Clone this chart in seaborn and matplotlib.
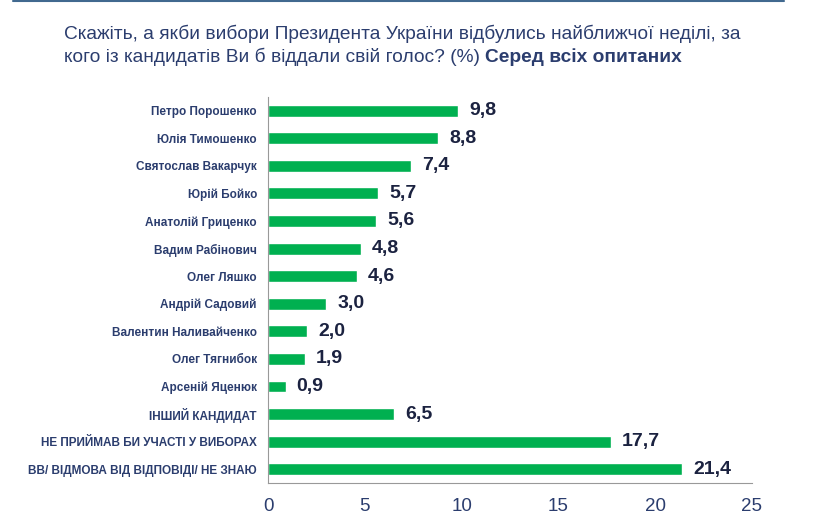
import numpy as np
import pandas as pd
import seaborn as sns
from matplotlib import pyplot as plt
from matplotlib.lines import Line2D

candidates = [
    'Петро Порошенко', 'Юлія Тимошенко', 'Святослав Вакарчук', 'Юрій Бойко',
    'Анатолій Гриценко', 'Вадим Рабінович', 'Олег Ляшко', 'Андрій Садовий',
    'Валентин Наливайченко', 'Олег Тягнибок', 'Арсеній Яценюк',
    'ІНШИЙ КАНДИДАТ', 'НЕ ПРИЙМАВ БИ УЧАСТІ У ВИБОРАХ',
    'ВВ/ ВІДМОВА ВІД ВІДПОВІДІ/ НЕ ЗНАЮ',
]
shares = [9.8, 8.8, 7.4, 5.7, 5.6, 4.8, 4.6, 3.0, 2.0, 1.9, 0.9, 6.5, 17.7, 21.4]
x_ticks = [0, 5, 10, 15, 20, 25]

NAVY = '#2b3d6e'
DARK = '#1b2240'
GREEN = '#00b050'

sns.set_style('white')
plt.rcParams['font.family'] = ['Liberation Sans', 'DejaVu Sans']

df = pd.DataFrame({'candidate': candidates, 'share': shares})

fig = plt.figure(figsize=(8.3, 5.21), dpi=100)
ax = fig.add_axes([0.323, 0.073, 0.583, 0.741])

sns.barplot(data=df, x='share', y='candidate', color=GREEN, orient='h',
            width=0.43, saturation=1, ax=ax)

for i, v in enumerate(shares):
    ax.annotate(f'{v:.1f}'.replace('.', ','), (v, i), xytext=(8, 0),
                textcoords='offset points', va='center', ha='left',
                fontsize=14, fontweight='bold', color=DARK)

ax.set_xlim(0, 25)
ax.set_ylim(len(candidates) - 0.5, -0.5)
ax.set_xticks(x_ticks)
ax.set_xticklabels([str(t) for t in x_ticks], fontsize=13.5, color=NAVY)
ax.set_yticks(range(len(candidates)))
ax.set_yticklabels(candidates, fontsize=8.5, fontweight='bold', color=NAVY)
ax.set_yticks(np.arange(-0.5, len(candidates), 1), minor=True)
ax.tick_params(axis='y', which='major', length=0, pad=8)
ax.tick_params(axis='y', which='minor', length=4, color='#999999', width=0.8)
ax.tick_params(axis='x', length=4, color='#999999', width=0.8, pad=7)
ax.set_xlabel('')
ax.set_ylabel('')

for side in ['top', 'right']:
    ax.spines[side].set_visible(False)
for side in ['left', 'bottom']:
    ax.spines[side].set_color('#999999')
    ax.spines[side].set_linewidth(0.8)

fig.text(0.077, 0.925, 'Скажіть, а якби вибори Президента України відбулись найближчої неділі, за',
         fontsize=13.8, color=NAVY)
fig.text(0.077, 0.881, 'кого із кандидатів Ви б віддали свій голос? (%) ', fontsize=13.8, color=NAVY)
t = fig.texts[-1]
fig.canvas.draw()
bb = t.get_window_extent()
fig.text(bb.x1 / fig.bbox.width, 0.881, 'Серед всіх опитаних', fontsize=13.8,
         fontweight='bold', color=NAVY)

fig.add_artist(Line2D([0.016, 0.945], [0.998, 0.998], color='#41698f', linewidth=1.5))

fig.savefig('out.png', dpi=100)
